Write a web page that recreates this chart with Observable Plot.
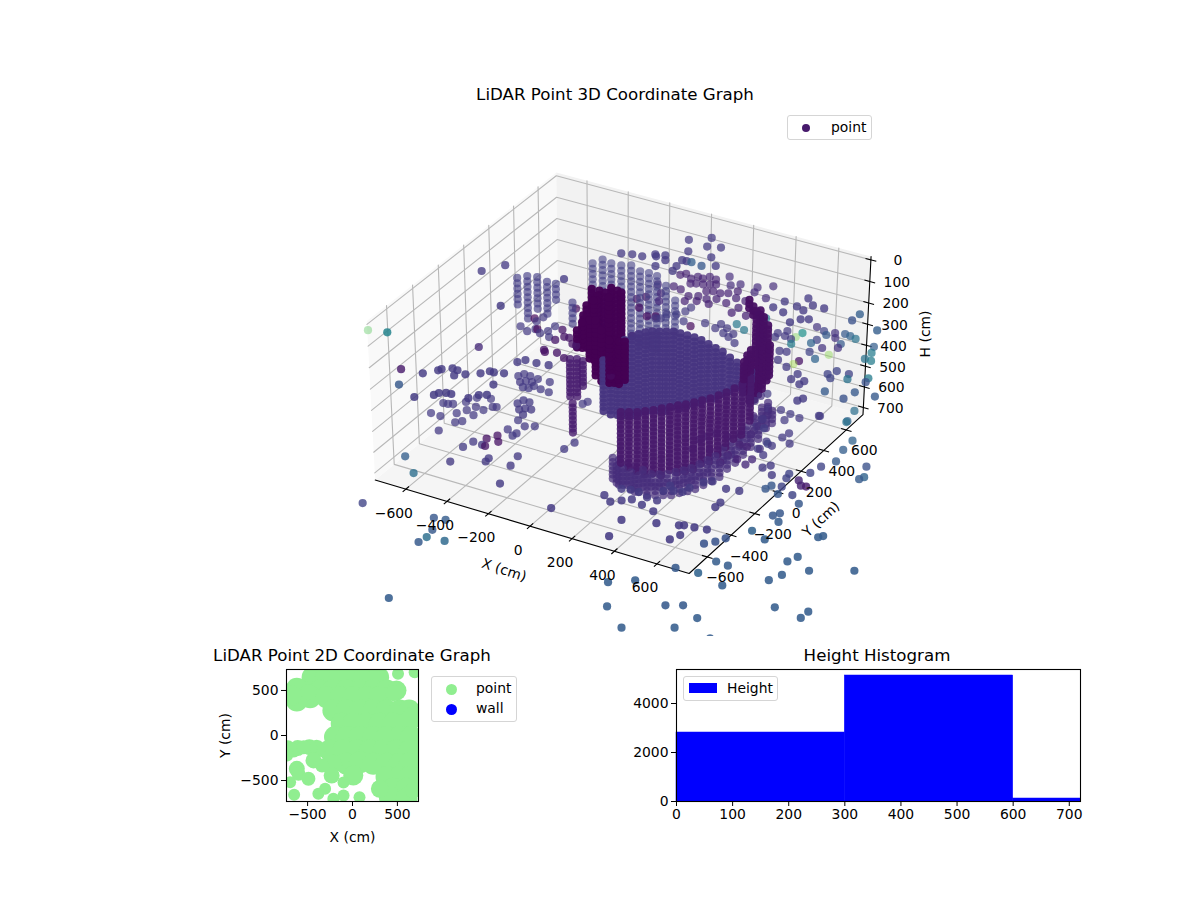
<!DOCTYPE html>
<html><head><meta charset="utf-8">
<script src="https://cdn.jsdelivr.net/npm/d3@7"></script>
<script src="https://cdn.jsdelivr.net/npm/@observablehq/plot@0.6"></script>
<style>
html,body{margin:0;padding:0;background:#fff;width:1200px;height:900px;overflow:hidden;font-family:"DejaVu Sans",sans-serif;color:#000}
.abs{position:absolute}
.ttl{position:absolute;font-size:16.67px;white-space:nowrap;transform:translateX(-50%);line-height:20px}
.leg{position:absolute;border:1px solid #d5d5d5;border-radius:3px;background:rgba(255,255,255,.8);box-sizing:border-box;font-size:13.9px}
.leg span{position:absolute;white-space:nowrap;line-height:16px}
.leg i{position:absolute;display:block}
</style></head><body>
<div id="c3" class="abs" style="left:0;top:0"></div>
<div id="c2" class="abs" style="left:200px;top:660px"></div>
<div id="ch" class="abs" style="left:620px;top:660px"></div>
<div class="ttl" style="left:615px;top:85px">LiDAR Point 3D Coordinate Graph</div>
<div class="ttl" style="left:352px;top:646px">LiDAR Point 2D Coordinate Graph</div>
<div class="ttl" style="left:877px;top:646px">Height Histogram</div>
<div class="leg" style="left:787px;top:115px;width:85px;height:25px"><i style="left:14px;top:8px;width:8px;height:8px;border-radius:50%;background:#471a6c"></i><span style="left:43px;top:3px">point</span></div>
<div class="leg" style="left:431px;top:676px;width:86px;height:46px"><i style="left:14px;top:7px;width:11px;height:11px;border-radius:50%;background:#90ee90"></i><span style="left:44px;top:3px">point</span><i style="left:14px;top:27px;width:11px;height:11px;border-radius:50%;background:#0000ff"></i><span style="left:44px;top:23px">wall</span></div>
<div class="leg" style="left:683px;top:676px;width:95px;height:25px"><i style="left:5px;top:6px;width:28px;height:10px;background:#0000ff"></i><span style="left:43px;top:3px">Height</span></div>
<script>
// ---------- 3D scan data (X cm, Y cm, H cm, colour value) ----------
const layersFine=[0,20,40,60,80,100,120,140,160,180,200,220,240,260,280,300,320,340,360,380,400,420,440,460,480,500,520,540,560,580,600,620,640,660,680,700];
const layersCoarse=[200,225,250,275,300,325,350,375,400,425,450,475,500,525,550];
// vertical scan stacks: [X, Y, top H, bottom H]
const discStacks=[[-47,-67,300,540],[-59,13,300,600],[-67,84,300,640],[-58,127,300,660],[-49,171,300,680],[-33,199,300,680],[-16,227,300,680],[5,249,300,680],[31,263,300,680],[56,277,300,680],[81,292,300,660],[114,292,300,660],[147,292,300,640],[181,292,300,620],[218,285,300,600],[260,270,300,560],[302,256,300,540],[343,242,300,500],[393,214,300,460],[438,192,300,420],[484,170,300,380],[525,156,300,340]];
const wallStacks=[[230,-403,300,540],[259,-387,300,560],[288,-370,300,580],[312,-347,300,600],[337,-323,300,600],[358,-293,300,620],[383,-268,300,600],[403,-238,300,620],[427,-215,300,620],[448,-184,300,620],[468,-153,300,600],[489,-122,300,600],[506,-84,300,580],[522,-47,300,560],[534,-1,300,540],[546,44,300,540],[551,104,300,500]];
const arcStacks=[[309,527,200,240],[383,455,200,620],[433,426,200,540],[570,228,200,340],[522,154,200,440],[546,53,200,340],[351,485,200,240],[393,470,200,600],[482,373,200,460],[530,109,200,360]];
const ringStacks=[[164,-355,560,660],[195,-357,560,680],[240,-370,560,660],[280,-374,560,680],[322,-380,560,640],[367,-392,560,620],[396,-376,560,620],[424,-360,560,600],[445,-328,560,620],[466,-298,560,620],[485,-267,560,620],[498,-222,560,620],[511,-177,560,620],[523,-131,560,600],[518,-58,560,620],[523,2,560,620],[519,76,560,620],[515,149,560,620],[510,223,560,620],[494,318,560,640],[496,367,560,620],
[212,-406,560,640],[243,-408,560,640],[288,-421,560,640],[328,-425,560,640],[370,-431,560,640],[415,-443,560,620],[444,-427,560,620],[472,-411,560,620],[493,-379,560,620],[514,-349,560,620],[533,-318,560,620],[546,-273,560,620],[559,-228,560,620],[571,-182,560,620],[566,-109,560,620],[571,-49,560,620],[567,25,560,620],[563,98,560,620],[558,172,560,620],[542,267,560,620],[544,316,560,620]];
const blobStacks=[[-306,283,200,460],[-270,284,200,460],[-239,282,200,600],[-240,331,200,620],[-205,322,200,620],[-182,315,200,500],[-220,66,200,340],[-178,-57,200,280],[-252,147,200,400],[-238,204,200,440],[-205,250,200,560],[-255,240,200,520],[-248,198,200,480],[-177,42,200,380],[-155,54,200,460],[-194,12,200,320],[-92,-7,200,440],[-20,-65,200,400],[-2,-54,200,400],[19,-53,200,400],[40,-41,200,380]];
const pillarStacks=[[-319,121,460,640],[-294,136,460,640],[-264,134,460,580],[-119,-197,460,600]];
const backStacks=[[-415,477,200,550],[-396,528,200,550],[-347,516,200,550],[-302,522,200,550],[-266,543,200,550],[-208,517,200,550],[-168,521,200,550],[-126,516,200,550],[-51,460,200,400],[45,368,200,350]];
const leftStacks=[[-623,209,200,325],[-595,244,200,400],[-555,258,200,350],[-498,242,200,350],[-457,245,200,275],[-315,140,200,300]];
// single returns: [X, Y] or [X, Y, colour]
const sweepH60=[[-781,-698,.75],[-704,-674,.45],[-644,-36],[-586,56],[-422,-253],[-315,74],[-223,385],[-179,400],[-135,406],[-96,447],[-39,629],[35,691],[56,615],[110,636],[9,539],[117,541],[67,463,.3],[119,455,.27],[170,484],[25,459],[45,461],[30,403],[37,358],[-85,435],[-56,461],[-35,424],[-45,359]];
const sweepH160=[[460,454],[477,522],[549,594],[594,550],[541,510],[580,493],[646,551],[516,437],[607,420],[636,437],[581,376],[794,518,.25],[797,580,.3],[923,494,.3]];
const sweepH260=[[-512,-287,.12],[-690,-606,.07],[-630,-719,.28],[-595,-591],[-554,-538],[-547,-523],[-512,-494],[-486,-498],[-475,-542],[-440,-511],[-391,-473],[-367,-439],[-348,-439],[-308,-425],[-297,-527],[-522,-775],[-462,-721],[-453,-697],[-428,-682],[-405,-679],[-327,-674],[-304,-630],[-276,-613],[-309,-317],[-289,-286],[-237,-285],[-185,-275],
[-288,11,.06],[-270,-78,.06],[-251,-37,.06],[-229,-34,.06],[-192,-71,.06],[-170,-78,.06],[-267,-174,.06],[-255,-187,.04],[-208,-169,.06],[-161,-192,.06],
[-102,672,.1],[-85,692,.1],[-46,665,.1],[-29,694,.1],[-3,690,.1],[14,719,.1],[49,710,.1],[-27,626,.1],[-6,638,.1],[23,646,.1],[48,660,.1],[70,673,.1],[64,600,.1],[89,615,.1],[123,614,.1],[-75,569,.1],[-37,561,.1],[20,526,.1],[56,546,.1],[98,541,.1],[134,562,.1],[28,480,.1],[71,505,.1],[127,508,.1],[186,552,.1],[152,631,.1],[178,666,.1],[201,610,.1],[247,607,.1],[247,489,.1],[251,540,.1],[311,496,.1],[86,761,.13],[127,696,.13],[159,724,.13],[233,737,.13],[243,693,.13],[286,778,.13],[309,672,.13],[-142,551,.12],[-92,490,.12],[-65,427,.12]];
const sweepH360=[[-549,107],[-503,84],[-482,116],[-448,96],[-428,128],[-424,179],[-398,86],[-513,177],[-506,221],[-533,195,.02],[-475,120,.02],
[107,516],[165,500],[169,542],[208,524],[215,479],[226,575,.4],[277,546,.4],[255,493],[250,461],[297,428],[-15,564],[-35,523],[67,463,.03],[-11,606],[21,485],[-70,502],[-75,460],[-93,449],
[-247,558,.03],[-222,592,.03],[-201,496,.03],[-102,267,.03],[-134,446,.03],[-102,464,.03],[-426,356,.02],
[815,689,.3],[831,638,.42],[831,579,.38],[861,577,.42],[920,442,.42],[926,407,.25],[1015,320,.28],[927,310,.28],[912,240,.25],[817,255,.28],[849,392,.38],[834,433,.2],[779,430,.2],[784,364,.2],[758,389,.2],[529,721,.15],[571,705,.2],[595,680,.28],[619,713,.15],[640,676,.15],[659,727,.28],[686,722,.32],[717,711,.38],[684,642,.28],[690,606,.15],[633,573,.15],[581,623,.2],[573,587,.32],[604,517,.2],[652,476,.32],
[493,601,.8],[685,535,.82],[595,393,.85],[501,645,.5],[505,539,.42],[308,681,.42],
[412,593],[450,586],[438,629],[484,576],[418,558],[492,462],[521,470],[523,392],[582,357],[603,427,.05],[648,276],[651,327],[698,255],[703,288],[756,131],[768,158],[-5,-40,.03],[-10,-70,.03]];
const sweepH460=[[-432,-111],[-419,-85],[-389,-86],[-399,-152],[-383,-132],[-356,-127],[-367,-183],[-342,-178],[-332,-152],[-348,-93],[-294,-161],[-292,-90],[-252,-166],[-316,-311],[-308,-277],[-278,-279],[-284,-352],[-267,-332],[-241,-327],[-248,-381]];
const sweepH560=[[-678,-412],[-631,-414],[-574,-520],[-551,-427],[-530,-405],[-585,-359],[-562,-316],[-516,-338],[-543,-274],[-502,-281],[-482,-239],[-468,-231],[-657,-310],[-639,-300],[-678,-314],[-601,-258],[-579,-206],[-524,-184],[-416,-586],[-402,-528],[-357,-532],[-367,-479,.05],[-341,-534,.05],[-341,-435,.05],[-312,-477,.05],[-331,-369],[-287,-404],[-282,-380],[-333,-282],[-283,-312],[-247,-291],
[-582,-771,.3],[-480,-870,.36],[-399,-715],[-273,-642],[-276,-613],[-167,-620],[-181,-539],[-130,-766],[151,-831],[-46,-392],[-35,-326],[-161,-3],[-170,-29],
[733,375],[671,319],[622,330],[572,340],[626,272],[542,235],[856,396,.32],[954,176,.3],[951,263,.32],[841,486,.36],[856,387,.38],
[683,59],[647,78],[689,-26],[645,8],[738,111],[687,141],[695,185],[737,377],[736,-117],[757,-86],[798,-151],[838,-227,.27],[829,-261,.27],[893,-273,.27],[878,-213,.2],[948,-251,.2],[1004,-299,.27],[942,-167,.1],[964,-163,.07],[914,-134,.1],[855,-107,.2],[862,-144,.2],[926,-57,.2],[940,10,.2],[1123,-2,.28],[1133,23,.32],[1101,103,.25],[973,78,.28],[958,-434,.27],[974,-404,.27],[1002,-467,.29],[943,-581,.31],[1020,-615,.29],[1198,-493,.29],[1211,-475,.29],[1181,-720,.29],[1200,-669,.29],
[286,-634],[333,-667],[368,-636],[400,-608],[445,-770],[466,-906],[321,-555],[357,-543],[395,-542],[457,-625],[445,-562],[493,-564],[477,-485],[513,-464],[549,-453],[557,-409],[585,-343],[613,-317],[480,-434],[522,-646],[723,-491],[724,-450],[745,-330],[690,-342],[580,-722],[667,-691],[685,-681],[729,-674],[781,-664],[709,-755],[690,-806],[825,-766,.26],[857,-730,.26],[880,-686,.26],[819,-987,.28],
[478,-99,.1],[565,-167,.1],[563,-99,.1],[613,-110,.1],[663,-130,.12],[666,-79,.12],[598,0,.1],[652,12,.15],[660,65,.2],[563,99,.1],[563,0,.1],[486,34,.12],[434,34,.12],[411,-9,.12],[399,-46,.12],[412,-127,.1],[539,233,.15],[585,170,.18],[497,238,.12],[551,171,.15],[521,321,.15],[441,403,.15],[457,432,.18],[440,353,.15]];
const sweepH660=[[-625,-1040,.2],[-310,-995,.27],[-260,-985,.29],[-265,-1080,.28],[-255,-1140,.36],[-263,-1190,.28],[-176,-1130,.34],[-137,-1620,.29],[560,-1077,.29],[647,-1010,.29],[650,-1240,.29],[780,-1350,.29],[847,-1116,.28],[908,-1081,.28],[1004,-1137,.29],[962,-1245,.29],[1123,-1245,.29],[838,-834,.32],[857,-720,.29],[914,-725,.29],[969,-870,.29],[1111,-741,.29],[1137,-679,.29],[1216,-596,.29],[1374,-505,.29],[1232,-912,.29],[1360,-931,.29],[1363,-874,.29],[1690,-1000,.48]];
// ---------- 3D axes ----------
const xTicks3=[-600,-400,-200,0,200,400,600];
const yTicks3=[-600,-400,-200,0,200,400,600];
const hTicks3=[0,100,200,300,400,500,600,700];
const paneXY=750, paneHTop=-15, paneHBottom=735;
// ---------- 2D view: [X, Y, radius] ----------
const flat=[[-444,648,11],[-296,648,11],[-148,648,11],[-11,648,11],[137,648,11],[285,648,11],[507,685,6],[692,703,6],[-585,500,11],[-361,500,11],[-213,500,11],[-65,500,11],[83,500,11],[231,500,11],[379,500,11],[490,500,10],[-472,426,11],[-287,426,11],[-139,426,11],[9,426,11],[157,426,11],[305,426,11],[455,470,8],[-213,278,11],[-65,278,11],[83,278,11],[231,278,11],[379,278,11],[527,278,11],[630,278,11],[-120,130,11],[7,130,11],[155,130,11],[303,130,11],[451,130,11],[600,130,11],[673,200,11],[-195,-18,11],[-65,-18,11],[83,-18,11],[231,-18,11],[379,-18,11],[527,-18,11],[657,-18,11],[-400,-148,9],[-250,-166,11],[-102,-166,11],[46,-166,11],[194,-166,11],[342,-166,11],[490,-166,11],[638,-166,11],[-213,-314,9],[-65,-314,11],[83,-296,11],[231,-314,11],[379,-314,11],[527,-314,11],[638,-314,11],[379,-462,11],[527,-462,11],[638,-462,11],[9,-444,10],[-232,-444,8],[305,-592,9],[453,-592,11],[601,-592,11],[675,-611,8],[416,-685,11],[601,-703,11],[78,-685,6],
[-620,518,11],[-620,388,11],[-675,444,10],[-490,481,8],[-654,-166,7],[-543,-130,7],[-720,-130,7],[-610,-140,8],[-480,-130,8],[-728,-222,6],[-434,-277,8],[-620,-370,8],[-602,-426,7],[-695,-518,6],[-491,-481,7],[-339,-333,7],[-305,-592,6],[-380,-648,6],[-100,-522,6],[-100,-666,6],[-213,-703,6],[-650,-659,6]];
// ---------- histogram ----------
const binStart=[0,300,600];
const binEnd=[300,600,720];
const binCount=[2816,5143,122];

// ---------- camera ----------
const elev=40*Math.PI/180, azim=-60*Math.PI/180, camDist=18;
const boxW=1.1906, boxD=.8929;
const ce=Math.cos(elev),se=Math.sin(elev),ca=Math.cos(azim),sa=Math.sin(azim);
function cam(X,Y,H){
  const px=X/1440*boxW, py=Y/1440*boxW, pz=(360-H)/720*boxD;
  const xv=-sa*px+ca*py;
  const yv=-se*ca*px-se*sa*py+ce*pz;
  const wp=ce*ca*px+ce*sa*py+se*pz;
  const d=(camDist-wp)*10/camDist;
  return [xv/d,yv/d,wp];
}
const pt=[];
function addStacks(list,layers,c,alpha){for(const [X,Y,a,b] of list)for(const H of layers)if(H>=a&&H<=b)pt.push({X,Y,H,c,fixed:alpha});}
addStacks(discStacks,layersFine,.15,.92);
addStacks(wallStacks,layersFine,.07,.92);
addStacks(arcStacks,layersFine,.04,.95);
addStacks(ringStacks,layersFine,.13,.72);
addStacks(blobStacks,layersFine,0,.97);
addStacks(pillarStacks,layersFine,.08,.8);
addStacks(backStacks,layersCoarse,.19,.6);
addStacks(leftStacks,layersCoarse,.18,.65);
for(const [list,H] of [[sweepH60,60],[sweepH160,160],[sweepH260,260],[sweepH360,360],[sweepH460,460],[sweepH560,560],[sweepH660,660]])
  for(const r of list)pt.push({X:r[0],Y:r[1],H,c:r.length>2?r[2]:.17});
for(const p of pt){const q=cam(p.X,p.Y,p.H);p.u=q[0];p.v=q[1];p.w=q[2];p.a=p.fixed?p.fixed:p.c>=.7?.42:Math.max(.64,Math.min(.88,.76+.25*q[2]));}
pt.sort((a,b)=>a.w-b.w);

const U=d=>cam(d[0],d[1],d[2])[0], V=d=>cam(d[0],d[1],d[2])[1];
const P=paneXY,T=paneHTop,B=paneHBottom;
const ringFloor=[[-P,-P,B],[P,-P,B],[P,P,B],[-P,P,B],[-P,-P,B]];
const ringLeft=[[-P,-P,B],[-P,P,B],[-P,P,T],[-P,-P,T],[-P,-P,B]];
const ringBack=[[-P,P,B],[P,P,B],[P,P,T],[-P,P,T],[-P,P,B]];
const grid=[];let gid=0;
for(const x of xTicks3){gid++;for(const r of [[x,-P,B],[x,P,B],[x,P,T]])grid.push({id:gid,r});}
for(const y of yTicks3){gid++;for(const r of [[P,y,B],[-P,y,B],[-P,y,T]])grid.push({id:gid,r});}
for(const h of hTicks3){gid++;for(const r of [[-P,-P,h],[-P,P,h],[P,P,h]])grid.push({id:gid,r});}
const axisLines=[[[-P,-P,B],[P,-P,B],[P,P,B],[P,P,T]]];
const fs=13.9;
const chart3=Plot.plot({
  width:1200,height:636,margin:0,
  style:{background:"transparent",fontFamily:"DejaVu Sans",fontSize:fs+"px",overflow:"hidden"},
  x:{domain:[-.21213,.19785],range:[0,1200],axis:null},
  y:{domain:[-.12018,.16566],range:[636,0],axis:null},
  color:{type:"linear",scheme:"viridis",domain:[0,1]},
  marks:[
    Plot.line(ringFloor,{x:U,y:V,fill:"#f5f5f5",stroke:"none"}),
    Plot.line(ringLeft,{x:U,y:V,fill:"#f9f9f9",stroke:"none"}),
    Plot.line(ringBack,{x:U,y:V,fill:"#f2f2f2",stroke:"none"}),
    Plot.line(grid,{x:d=>U(d.r),y:d=>V(d.r),z:"id",stroke:"#b8b8b8",strokeWidth:1.1}),
    Plot.line(axisLines[0],{x:U,y:V,stroke:"black",strokeWidth:1.1}),
    Plot.link(xTicks3,{x1:d=>U([d,-P+25,B]),y1:d=>V([d,-P+25,B]),x2:d=>U([d,-P-25,B]),y2:d=>V([d,-P-25,B]),stroke:"black",strokeWidth:1.1}),
    Plot.link(yTicks3,{x1:d=>U([P-25,d,B]),y1:d=>V([P-25,d,B]),x2:d=>U([P+25,d,B]),y2:d=>V([P+25,d,B]),stroke:"black",strokeWidth:1.1}),
    Plot.link(hTicks3,{x1:d=>U([P-25,P,d]),y1:d=>V([P-25,P,d]),x2:d=>U([P+25,P,d]),y2:d=>V([P+25,P,d]),stroke:"black",strokeWidth:1.1}),
    Plot.dot(pt,{x:"u",y:"v",r:4.1,fill:"c",stroke:"none",fillOpacity:"a"}),
    Plot.text(xTicks3,{x:d=>U([d,-P,B]),y:d=>V([d,-P,B]),text:d=>d3.format("d")(d).replace("-","\u2212"),dx:-12,dy:24,fontSize:fs,fill:"black"}),
    Plot.text(yTicks3,{x:d=>U([P,d,B]),y:d=>V([P,d,B]),text:d=>d3.format("d")(d).replace("-","\u2212"),dx:18,dy:21,fontSize:fs,fill:"black"}),
    Plot.text(hTicks3,{x:d=>U([P,P,d]),y:d=>V([P,P,d]),text:d=>String(d),dx:27,dy:1,fontSize:fs,fill:"black"}),
    Plot.text(["X (cm)"],{x:()=>U([0,-P,B]),y:()=>V([0,-P,B]),text:d=>d,dx:-26,dy:44,rotate:18,fontSize:fs,fill:"black"}),
    Plot.text(["Y (cm)"],{x:()=>U([P,0,B]),y:()=>V([P,0,B]),text:d=>d,dx:43,dy:27,rotate:-43,fontSize:fs,fill:"black"}),
    Plot.text(["H (cm)"],{x:()=>U([P,P,360]),y:()=>V([P,P,360]),text:d=>d,dx:59,dy:-3,rotate:-90,fontSize:fs,fill:"black"})
  ]
});
document.getElementById("c3").append(chart3);

const chart2=Plot.plot({
  width:230,height:190,marginLeft:86,marginRight:12,marginTop:9,marginBottom:49,
  style:{background:"transparent",fontFamily:"DejaVu Sans",fontSize:fs+"px"},
  x:{domain:[-735,735],axis:null},
  y:{domain:[-733,733],axis:null},
  r:{type:"identity"},
  marks:[
    Plot.dot(flat,{x:d=>d[0],y:d=>d[1],r:d=>d[2],fill:"#90ee90",clip:true}),
    Plot.axisX({ticks:[-500,0,500],tickSize:5,tickPadding:3,tickFormat:d=>String(d).replace("-","\u2212"),label:"X (cm)",labelAnchor:"center",labelArrow:"none",labelOffset:40}),
    Plot.axisY({ticks:[-500,0,500],tickSize:5,tickPadding:3,tickFormat:d=>String(d).replace("-","\u2212"),label:"Y (cm)",labelAnchor:"center",labelArrow:"none",labelOffset:66}),
    Plot.frame({stroke:"black",strokeWidth:1.1})
  ]
});
document.getElementById("c2").append(chart2);

const chartH=Plot.plot({
  width:470,height:190,marginLeft:56,marginRight:10,marginTop:9,marginBottom:49,
  style:{background:"transparent",fontFamily:"DejaVu Sans",fontSize:fs+"px"},
  x:{domain:[0,720],axis:null},
  y:{domain:[0,5388],axis:null},
  marks:[
    Plot.rectY(binCount.map((c,i)=>({a:binStart[i],b:binEnd[i],c})),{x1:"a",x2:"b",y1:0,y2:"c",fill:"#0000ff",stroke:"#0000ff",strokeWidth:.5}),
    Plot.axisX({ticks:[0,100,200,300,400,500,600,700],tickSize:5,tickPadding:3,label:null}),
    Plot.axisY({ticks:[0,2000,4000],tickSize:5,tickPadding:3,tickFormat:d=>String(d),label:null}),
    Plot.frame({stroke:"black",strokeWidth:1.1})
  ]
});
document.getElementById("ch").append(chartH);
</script>
</body></html>
